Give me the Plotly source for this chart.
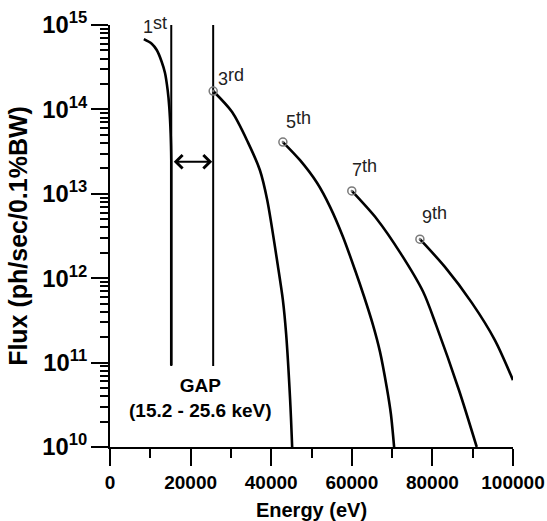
import math
import plotly.graph_objects as go

# Undulator harmonic flux curves (energy in eV, flux in ph/sec/0.1%BW)
h1_energy = [8400, 10350, 11600, 12800, 13650, 14300, 14700, 15050, 15200, 15200]
h1_flux = [6.8e14, 6.0e14, 5.05e14, 3.7e14, 2.7e14, 1.7e14, 1.08e14, 5.2e13, 2.5e13, 9.3e10]

h3_energy = [25600, 30300, 34200, 37200, 39000, 41700, 42900, 43700, 44700, 45200]
h3_flux = [1.65e14, 9.3e13, 4.1e13, 1.9e13, 8.5e12, 1.36e12, 5.5e11, 2.2e11, 3.6e10, 1.0e10]

h5_energy = [42900, 47150, 51400, 54600, 57800, 60800, 63000, 65250, 67000, 68700, 69700, 70500]
h5_flux = [4.1e13, 2.5e13, 1.34e13, 7.0e12, 3.1e12, 1.25e12, 6.15e11, 2.8e11, 1.34e11, 5.0e10, 2.46e10, 1.0e10]

h7_energy = [60000, 66250, 72200, 77700, 80900, 86600, 91000]
h7_flux = [1.08e13, 5.0e12, 1.94e12, 6.9e11, 2.8e11, 4.7e10, 1.0e10]

h9_energy = [76900, 83100, 89800, 95500, 100000]
h9_flux = [2.9e12, 1.36e12, 5.1e11, 1.85e11, 6.2e10]

harmonic_numbers = ["1", "3", "5", "7", "9"]
harmonic_suffixes = ["st", "rd", "th", "th", "th"]

# Energy gap between 1st and 3rd harmonic
gap_energy = [15200, 25600]
gap_line_flux = [9.1e10, 1.05e15]
gap_arrow_flux = 2.4e13

FONT = "Arial, Liberation Sans, sans-serif"
BLACK = "black"

curves = [
    (h1_energy, h1_flux),
    (h3_energy, h3_flux),
    (h5_energy, h5_flux),
    (h7_energy, h7_flux),
    (h9_energy, h9_flux),
]

fig = go.Figure()

# gap boundary lines
for e in gap_energy:
    fig.add_trace(go.Scatter(
        x=[e, e], y=gap_line_flux, mode="lines",
        line=dict(color=BLACK, width=2), hoverinfo="skip", showlegend=False,
    ))

for i, (ex, fx) in enumerate(curves):
    fig.add_trace(go.Scatter(
        x=ex, y=fx, mode="lines",
        line=dict(color=BLACK, width=2.6, shape="spline", smoothing=0.8),
        showlegend=False,
    ))
    if i > 0:
        fig.add_trace(go.Scatter(
            x=[ex[0]], y=[fx[0]], mode="markers",
            marker=dict(symbol="circle-open-dot", size=8, color="#7a7a7a",
                        line=dict(width=1.5, color="#7a7a7a")),
            showlegend=False,
        ))

# harmonic labels, placed relative to each curve's starting point
# (annotation coordinates on a log axis are given as log10 values)
label_shifts = [(-3, 0), (3, 0), (1, 8), (-2, 9), (0, 10)]
for (ex, fx), num, suf, (dx, dy) in zip(curves, harmonic_numbers, harmonic_suffixes, label_shifts):
    common = dict(x=ex[0], y=math.log10(fx[0]), xref="x", yref="y", showarrow=False,
                  xanchor="left", yanchor="bottom",
                  font=dict(family=FONT, size=18, color="#222222"))
    fig.add_annotation(text=num, xshift=dx, yshift=dy, **common)
    fig.add_annotation(text=suf, xshift=dx + 10, yshift=dy + 4, **common)

# double-headed arrow across the gap
arrow_y = math.log10(gap_arrow_flux)
fig.add_annotation(
    x=gap_energy[1], y=arrow_y, ax=gap_energy[0], ay=arrow_y,
    xref="x", yref="y", axref="x", ayref="y", text="",
    showarrow=True, arrowhead=4, startarrowhead=4, arrowside="end+start",
    arrowsize=1.3, startarrowsize=1.3, arrowwidth=2, arrowcolor=BLACK,
    standoff=1, startstandoff=1,
)

fig.add_annotation(
    x=sum(gap_energy) / 2, y=10.58, xref="x", yref="y",
    text="<b>GAP</b><br><b>(15.2 - 25.6 keV)</b>", showarrow=False,
    xshift=8, font=dict(family=FONT, size=19, color=BLACK), align="center",
)

fig.update_layout(
    width=547, height=521,
    margin=dict(l=110, r=34, t=25, b=74),
    paper_bgcolor="white", plot_bgcolor="white",
    font=dict(family=FONT, color=BLACK),
)

# automargin limited to a side that never needs extra room
fig.update_xaxes(
    range=[0, 100000], dtick=20000, tickformat="d", automargin="left",
    showgrid=False, zeroline=False,
    showline=True, linecolor=BLACK, linewidth=2,
    ticks="outside", ticklen=17, tickwidth=2, tickcolor=BLACK,
    minor=dict(ticks="outside", ticklen=9, tickwidth=2, tickcolor=BLACK, dtick=10000),
    tickfont=dict(family=FONT, size=19, color=BLACK, weight="bold"),
    title=dict(text="Energy (eV)", standoff=12,
               font=dict(family=FONT, size=20, color=BLACK, weight="bold")),
)

fig.update_yaxes(
    type="log", range=[10, 15], dtick=1, exponentformat="power", automargin="bottom",
    showgrid=False, zeroline=False,
    showline=True, linecolor=BLACK, linewidth=2,
    ticks="outside", ticklen=17, tickwidth=2, tickcolor=BLACK,
    minor=dict(ticks="outside", ticklen=8, tickwidth=1.5, tickcolor=BLACK, dtick="D1"),
    tickfont=dict(family=FONT, size=19, color=BLACK, weight="bold"),
    title=dict(text="Flux (ph/sec/0.1%BW)", standoff=8,
               font=dict(family=FONT, size=25, color=BLACK, weight="bold")),
)

fig.write_html("out.html")
